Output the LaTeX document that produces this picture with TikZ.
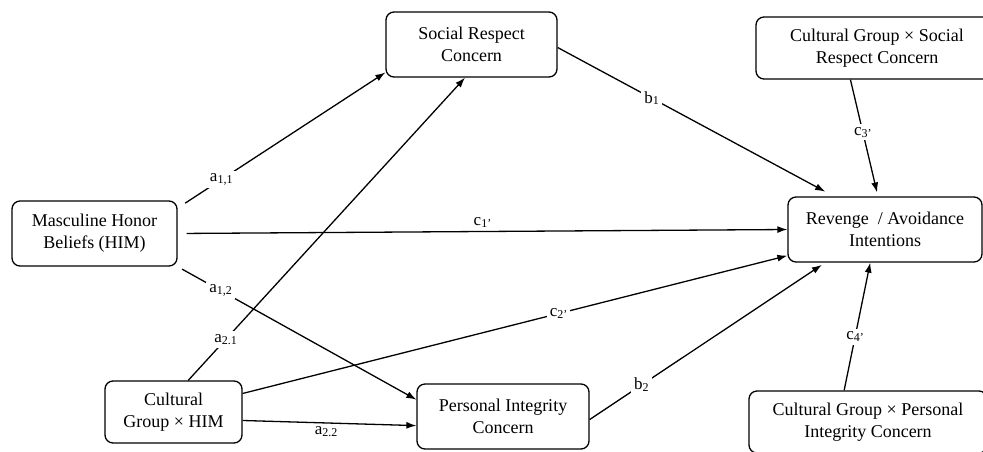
\documentclass[tikz,border=0pt]{standalone}
\usepackage{fontspec}
\setmainfont{Liberation Serif}
\usetikzlibrary{arrows.meta}

\newcommand{\coefsub}[2]{#1\raisebox{-0.25ex}{\fontsize{12}{12}\selectfont #2}}

\begin{document}
\begin{tikzpicture}[x=1pt, y=-1pt,
    box/.style={draw, rounded corners=8pt, line width=1.3pt, align=center, inner sep=0pt,
        font=\fontsize{18}{22}\selectfont},
    effect/.style={line width=1.3pt, -{Latex[length=10pt,width=7pt]}},
    coef/.style={fill=white, inner sep=3pt, font=\fontsize{17}{20}\selectfont}]
                \useasboundingbox (0,0) rectangle (983,451);

                % Nodes
                \node[box, minimum width=165pt, minimum height=65pt] (him) at (94.5,233.5) {Masculine Honor\\Beliefs (HIM)};
                \node[box, minimum width=137pt, minimum height=62pt] (cghim) at (173.5,412) {Cultural\\Group × HIM};
                \node[box, minimum width=171pt, minimum height=65pt] (social) at (471.5,44.5) {Social Respect\\Concern};
                \node[box, minimum width=172pt, minimum height=65pt] (pint) at (503,416.5) {Personal Integrity\\Concern};
                \node[box, minimum width=194pt, minimum height=65pt] (rev) at (885,229.5) {Revenge~ / Avoidance\\Intentions};
                \node[box, minimum width=242pt, minimum height=62pt] (cgsocial) at (877,48) {Cultural Group × Social\\Respect Concern};
                \node[box, minimum width=238pt, minimum height=62pt] (cgpint) at (868,422) {Cultural Group × Personal\\Integrity Concern};

                % Edges
                \draw[effect, shorten <=9pt] (him.17) -- node[coef, pos=0.21] {\coefsub{a}{1,1}} (social.198);
                \draw[effect, shorten <=5pt] (him.south east) -- node[coef, pos=0.18] {\coefsub{a}{1,2}} (pint.169);
                \draw[effect] (cghim.65) -- node[coef, pos=0.135] {\coefsub{a}{2.1}} (social.259);
                \draw[effect] (cghim.-7) -- node[coef, fill=none, below, pos=0.48] {\coefsub{a}{2.2}} (pint.186);
                \draw[effect, shorten <=9pt] (him.east) -- node[coef, fill=none, above, pos=0.5] {\coefsub{c}{1’}} (rev.west);
                \draw[effect] (cghim.15) -- node[coef, pos=0.58] {\coefsub{c}{2’}} (rev.195);
                \draw[effect, shorten >=10pt] (social.-2) -- node[coef, pos=0.34] {\coefsub{b}{1}} (rev.147.5);
                \draw[effect, shorten >=4pt] (pint.-2) -- node[coef, pos=0.22] {\coefsub{b}{2}} (rev.209);
                \draw[effect, shorten >=4pt] (cgsocial.230) -- node[coef, pos=0.45] {\coefsub{c}{3’}} (rev.102);
                \draw[effect] (cgpint.127) -- node[coef, pos=0.42] {\coefsub{c}{4’}} (rev.246);
            \end{tikzpicture}
\end{document}
